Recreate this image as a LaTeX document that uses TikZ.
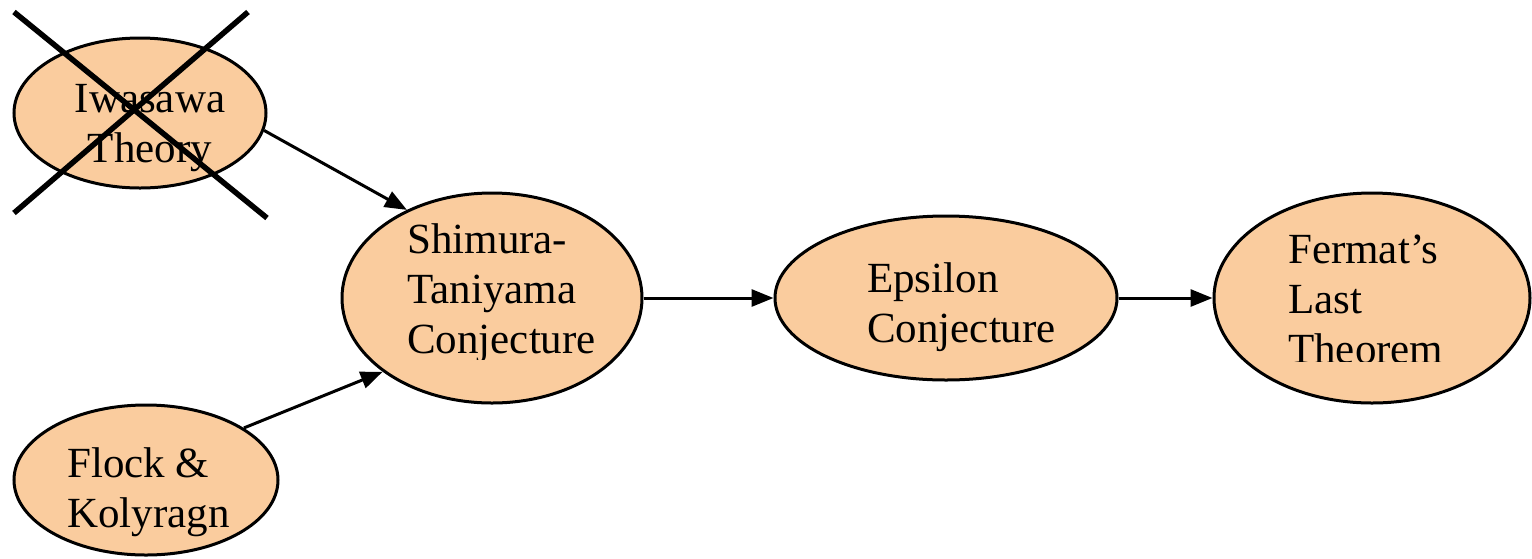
\documentclass[tikz,border=0pt]{standalone}
\usepackage{fontspec}
\setmainfont{Liberation Serif}
\usetikzlibrary{arrows.meta,shapes.geometric}
\definecolor{peach}{RGB}{250,204,158}
\begin{document}
\begin{tikzpicture}[x=1pt,y=-1pt,
  topic/.style={ellipse,draw=black,line width=3pt,fill=peach,inner sep=0pt},
  txt/.style={inner sep=0pt,font=\fontsize{43}{50}\selectfont},
  link/.style={line width=3pt,-{Triangle[length=22pt,width=17pt]}},
  cross/.style={line width=5.5pt}]
\useasboundingbox (0,0) rectangle (1532,558);

% ellipses
\node[topic,minimum width=252pt,minimum height=150pt] (iw) at (140,113) {};
\node[topic,minimum width=264pt,minimum height=150pt] (fl) at (146,480) {};
\node[topic,minimum width=300pt,minimum height=210pt] (sh) at (492,298) {};
\node[topic,minimum width=342pt,minimum height=164pt] (ep) at (946,298) {};
\node[topic,minimum width=316pt,minimum height=210pt] (fe) at (1372,298) {};

% texts
\node[txt,anchor=base] (iw-t) at (150,112) {\begin{tabular}[t]{@{}c@{}}Iwasawa\\Theory\end{tabular}};
\node[txt,anchor=base west] (fl-t) at (67,477) {\begin{tabular}[t]{@{}l@{}}Flock \&\\Kolyragn\end{tabular}};
\begin{scope}
  \clip (340,180) rectangle (650,359);
  \node[txt,anchor=base west] (sh-t) at (407,253) {\begin{tabular}[t]{@{}l@{}}Shimura-\\Taniyama\\Conjecture\end{tabular}};
\end{scope}
\node[txt,anchor=base west] (ep-t) at (867,292) {\begin{tabular}[t]{@{}l@{}}Epsilon\\Conjecture\end{tabular}};
\begin{scope}
  \clip (1200,180) rectangle (1532,361);
  \node[txt,anchor=base west] (fe-t) at (1288,263) {\begin{tabular}[t]{@{}l@{}}Fermat’s\\Last\\Theorem\end{tabular}};
\end{scope}

% connectors
\draw[link] (iw.-8.6) -- (sh.134.7);
\draw[link] (fl.28.3) -- (sh.214.5);
\draw[link] (sh.east) -- (ep.west);
\draw[link] (ep.east) -- (fe.west);

% crossed-out mark
\coordinate (xa) at (14,12);
\coordinate (xb) at (267,218);
\coordinate (xc) at (248,12);
\coordinate (xd) at (14,213);
\draw[cross] (xa) -- (xb);
\draw[cross] (xc) -- (xd);
\end{tikzpicture}
\end{document}
